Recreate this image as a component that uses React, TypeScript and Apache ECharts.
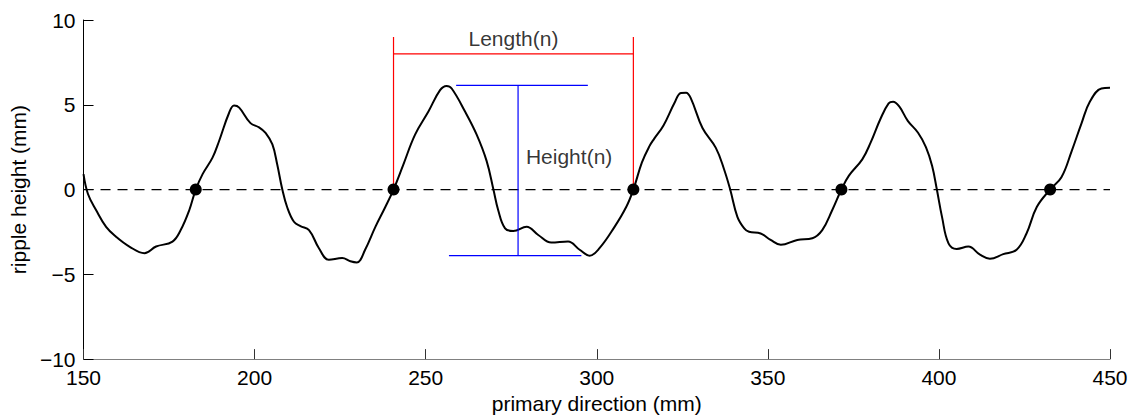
import React, { useEffect, useRef } from "react";
import * as echarts from "echarts";

// Bed profile along the primary direction: [position (mm), ripple height (mm)]
const profileX = [
  150, 151.3, 153.7, 156.6, 159.5, 163.4, 167.8, 171.2, 176, 178.4, 180.9, 182.8,
  184.8, 187.7, 189.6, 192.5, 194, 195.5, 198.8, 201.3, 203.2, 205.2, 206.6, 208.1,
  209.5, 211.5, 213.4, 215.9, 218.8, 221.7, 225.6, 228, 229.9, 232.3, 235.3, 238.2,
  240.6, 243.5, 246.9, 250.8, 254.2, 256.1, 257.6, 261.5, 264.9, 267.8, 269.8, 271.2,
  273.2, 275.6, 279.5, 282.9, 286.7, 291.6, 295, 297.9, 300.8, 305.2, 308.6, 310.7,
  313.2, 315.4, 316.8, 319.5, 322.7, 324.6, 326.1, 327.5, 330.9, 334.8, 337.2, 339,
  341.1, 343.1, 344.5, 347.9, 350.8, 353.8, 358.6, 363, 365.9, 368.8, 371.5, 373.7,
  377.6, 380, 382.9, 385.3, 386.6, 388.4, 390.9, 393.9, 396.2, 398, 399.4, 400.9,
  402.8, 405.2, 408.6, 412, 414.9, 418.8, 422.7, 425.6, 428.6, 432.5, 435.8, 438.8,
  441.7, 444.1, 447.5, 450,
];
const profileY = [
  0.91, -0.26, -1.22, -2.2, -2.78, -3.36, -3.75, -3.36, -3.07, -2.39, -1.22, 0,
  0.91, 1.88, 2.85, 4.5, 4.95, 4.83, 3.92, 3.67, 3.34, 2.66, 1.49, 0,
  -1.03, -1.9, -2.16, -2.39, -3.46, -4.14, -4.04, -4.23, -4.3, -3.55, -2.2, -1.03,
  0, 1.49, 3.24, 4.6, 5.86, 6.11, 5.96, 4.6, 3.24, 1.69, 0, -1.22,
  -2.29, -2.45, -2.2, -2.68, -3.13, -3.07, -3.55, -3.9, -3.46, -2.2, -1.03, 0,
  1.6, 2.56, 3.0, 3.78, 5.1, 5.7, 5.71, 5.38, 3.63, 2.46, 1.2, 0,
  -1.61, -2.29, -2.49, -2.59, -2.97, -3.26, -2.97, -2.87, -2.39, -1.22, 0, 0.82,
  1.78, 2.75, 4.16, 5.08, 5.18, 4.9, 4.05, 3.35, 2.5, 1.4, 0, -1.61,
  -3.17, -3.5, -3.36, -3.84, -4.08, -3.81, -3.55, -2.59, -1.03, 0, 0.72, 2.27,
  3.92, 5.18, 5.96, 6.0,
];

// Up-crossings of the mean level
const upCrossings = [182.8, 240.6, 310.7, 371.5, 432.5];

// Ripple n: length between two up-crossings, height between crest and trough
const lengthTickTop = 9;
const lengthBarLevel = 8;
const heightCrest = 6.15;
const heightTrough = -3.9;
const heightBarX = 277;
const crestLineX = [258.9, 297.4];
const troughLineX = [256.8, 295.5];
const heightLabelPos = [279.3, 1.92];
const lengthLabelLevel = 8.9;

const xTicks = { min: 150, max: 450, interval: 50 };
const yTicks = { min: -10, max: 10, interval: 5 };

const FONT = "'Liberation Sans', Arial, Helvetica, sans-serif";

export default function App() {
  const ref = useRef<HTMLDivElement>(null);

  useEffect(() => {
    if (!ref.current) return;
    const chart = echarts.init(ref.current, null, { renderer: "svg" });

    const profile = profileX.map((x, i) => [x, profileY[i]]);
    const [lx0, lx1] = [upCrossings[1], upCrossings[2]];

    const seg = (data: number[][], color: string, width = 1, type: any = "solid") => ({
      type: "line",
      data,
      symbol: "none",
      silent: true,
      color,
      lineStyle: { color, width, type },
      z: 3,
    });

    const textMark = (pos: number[], text: string, position: any) => ({
      type: "scatter",
      data: [pos],
      symbolSize: 0,
      silent: true,
      z: 5,
      label: {
        show: true,
        position,
        distance: 0,
        formatter: text,
        fontFamily: FONT,
        fontSize: 21,
        color: "#000",
      },
    });

    chart.setOption({
      animation: false,
      textStyle: { fontFamily: FONT },
      grid: { left: 81, right: 24, top: 20, bottom: 56, containLabel: false },
      xAxis: {
        type: "value",
        ...xTicks,
        name: "primary direction (mm)",
        nameLocation: "middle",
        nameGap: 33,
        nameTextStyle: { fontFamily: FONT, fontSize: 21, color: "#000" },
        axisLine: { show: true, onZero: false, lineStyle: { color: "#808080", width: 1 } },
        axisTick: { show: true, inside: true, length: 10, lineStyle: { color: "#333", width: 1 } },
        axisLabel: { margin: 8, fontFamily: FONT, fontSize: 21, color: "#000" },
        splitLine: { show: false },
      },
      yAxis: {
        type: "value",
        ...yTicks,
        name: "ripple height (mm)",
        nameLocation: "middle",
        nameGap: 50,
        nameTextStyle: { fontFamily: FONT, fontSize: 21, color: "#000" },
        axisLine: { show: true, onZero: false, lineStyle: { color: "#000", width: 1 } },
        axisTick: { show: true, inside: true, length: 10, lineStyle: { color: "#000", width: 1 } },
        axisLabel: {
          margin: 8,
          fontFamily: FONT,
          fontSize: 21,
          color: "#000",
          formatter: (v: number) => String(v).replace("-", "\u2212"),
        },
        splitLine: { show: false },
      },
      series: [
        // mean level
        {
          ...seg([[xTicks.min, 0], [xTicks.max, 0]], "#000", 1.2, [10, 7]),
          z: 1,
        },
        // bed profile
        {
          type: "line",
          data: profile,
          symbol: "none",
          smooth: 0.4,
          silent: true,
          color: "#000",
          lineStyle: { color: "#000", width: 2 },
          z: 2,
        },
        // up-crossing points
        {
          type: "scatter",
          data: upCrossings.map((x) => [x, 0]),
          symbol: "circle",
          symbolSize: 12,
          itemStyle: { color: "#000", opacity: 1 },
          silent: true,
          z: 4,
        },
        // length marker
        seg([[lx0, 0], [lx0, lengthTickTop]], "#ff0000", 1.2),
        seg([[lx1, 0], [lx1, lengthTickTop]], "#ff0000", 1.2),
        seg([[lx0, lengthBarLevel], [lx1, lengthBarLevel]], "#ff0000", 1.2),
        // height marker
        seg([[crestLineX[0], heightCrest], [crestLineX[1], heightCrest]], "#0000ff", 1.2),
        seg([[troughLineX[0], heightTrough], [troughLineX[1], heightTrough]], "#0000ff", 1.2),
        seg([[heightBarX, heightTrough], [heightBarX, heightCrest]], "#0000ff", 1.2),
        textMark([(lx0 + lx1) / 2, lengthLabelLevel], "Length(n)", "inside"),
        textMark(heightLabelPos, "Height(n)", "right"),
      ],
    });

    return () => chart.dispose();
  }, []);

  return (
    <div
      ref={ref}
      style={{ position: "absolute", left: 0, top: 0, width: 1134, height: 419, background: "#fff" }}
    />
  );
}
